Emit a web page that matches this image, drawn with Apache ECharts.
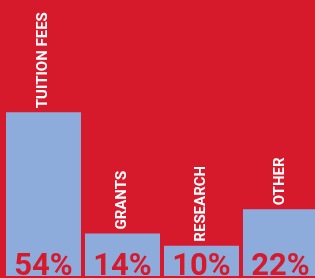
<!DOCTYPE html>
<html>
<head>
<meta charset="utf-8">
<script src="https://cdn.jsdelivr.net/npm/echarts@6/dist/echarts.min.js"></script>
<style>
  html, body { margin: 0; padding: 0; background: #d7192c; }
  #main { width: 315px; height: 278px; }
</style>
</head>
<body>
<div id="main"></div>
<script>
const categories = ['TUITION FEES', 'GRANTS', 'RESEARCH', 'OTHER'];
const shares = [54, 14, 10, 22];

const red = '#d7192c';
const blue = '#8eacdb';
const condensed = '"Liberation Sans Narrow", "Roboto", sans-serif';

const chart = echarts.init(document.getElementById('main'));

const option = {
  backgroundColor: red,
  animation: false,
  grid: { left: 4, top: 0, width: 316, bottom: 2, outerBoundsMode: 'none' },
  xAxis: {
    type: 'category',
    data: categories,
    show: false
  },
  yAxis: {
    type: 'value',
    min: 0,
    max: 91,
    show: false
  },
  series: [
    {
      // bars with the rotated category name above
      type: 'bar',
      barWidth: 75,
      data: shares,
      itemStyle: { color: blue },
      label: {
        show: true,
        position: 'top',
        rotate: 90,
        align: 'left',
        verticalAlign: 'middle',
        distance: 4,
        color: '#ffffff',
        fontFamily: condensed,
        fontWeight: 'bold',
        fontSize: 15,
        formatter: p => p.name
      }
    },
    {
      // same bars again, only for the percent labels
      type: 'bar',
      barWidth: 75,
      barGap: '-100%',
      data: shares,
      itemStyle: { color: 'transparent' },
      label: {
        show: true,
        position: 'insideBottom',
        distance: 0,
        offset: [0, 7],
        color: red,
        fontFamily: condensed,
        fontWeight: 'bold',
        fontSize: 31,
        formatter: p => p.value + '%'
      }
    }
  ]
};

chart.setOption(option);
</script>
</body>
</html>
